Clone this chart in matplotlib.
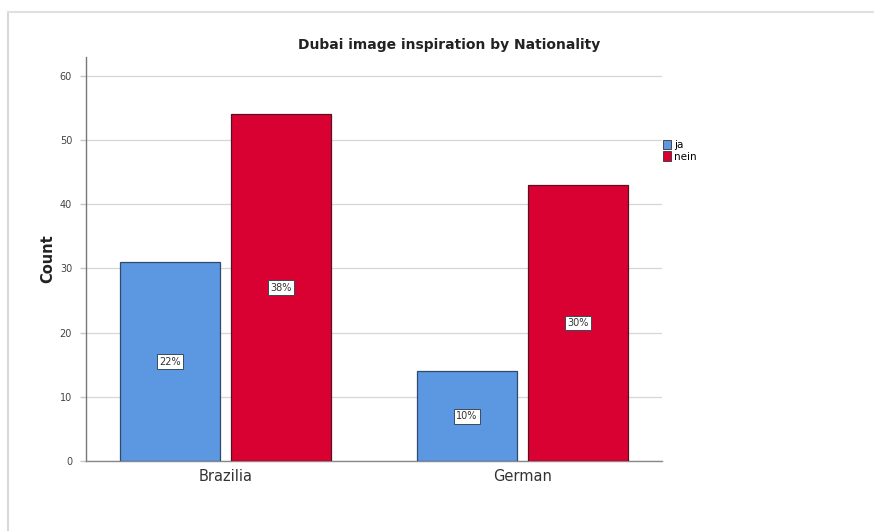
import matplotlib
matplotlib.use("Agg")
import matplotlib.pyplot as plt
from matplotlib.lines import Line2D
import numpy as np

categories = ["Brazilia", "German"]
series_names = ["ja", "nein"]
ja_counts = [31, 14]
nein_counts = [54, 43]
ja_pct = ["22%", "10%"]
nein_pct = ["38%", "30%"]
title = "Dubai image inspiration by Nationality"
y_ticks = [0, 10, 20, 30, 40, 50, 60]

blue = "#5C97E1"
red = "#D90032"

fig = plt.figure(figsize=(8.74, 5.31), dpi=100)
ax = fig.add_axes([86/874, 1-461/531, (662-86)/874, (461-57)/531])

x = np.arange(len(categories))
w = 0.336
gap = 0.037
off = (w + gap) / 2

b1 = ax.bar(x - off, ja_counts, w, color=blue, edgecolor="#2F4A6B", linewidth=0.9, label=series_names[0], zorder=3)
b2 = ax.bar(x + off, nein_counts, w, color=red, edgecolor="#5A1020", linewidth=0.9, label=series_names[1], zorder=3)

for bars, labels in ((b1, ja_pct), (b2, nein_pct)):
    for r, lab in zip(bars, labels):
        ax.text(r.get_x() + r.get_width()/2, r.get_height()/2, lab, ha="center", va="center",
                fontsize=7, color="#333333", zorder=5,
                bbox=dict(boxstyle="square,pad=0.25", facecolor="white", edgecolor="#3A4A5A", linewidth=0.7))

ax.set_xlim(-0.47, 1.47)
ax.set_ylim(0, 62.96)
ax.set_yticks(y_ticks)
ax.set_yticklabels([str(t) for t in y_ticks], fontsize=7, color="#444444")
ax.set_xticks(x)
ax.set_xticklabels(categories, fontsize=10.5, color="#333333")
ax.tick_params(axis="x", length=0, pad=6)
ax.tick_params(axis="y", length=4, color="#C8C8C8", width=1, pad=6)
ax.yaxis.grid(True, color="#D6D6D6", linewidth=0.9, zorder=0)
ax.set_axisbelow(True)
for s in ("top", "right"):
    ax.spines[s].set_visible(False)
ax.spines["left"].set_color("#777777")
ax.spines["bottom"].set_color("#888888")
ax.spines["left"].set_linewidth(1)
ax.spines["bottom"].set_linewidth(1)

ax.set_ylabel("Count", fontsize=10.5, fontweight="bold", color="#222222", labelpad=3)
fig.text(449/874, 1-45/531, title, ha="center", va="center", fontsize=10, fontweight="bold", color="#222222")

leg = ax.legend(loc="upper left", bbox_to_anchor=(663/874, 1-140/531), bbox_transform=fig.transFigure,
                frameon=False, fontsize=7.5, handlelength=0.8, handleheight=1.0, handletextpad=0.3,
                labelspacing=0.1, borderaxespad=0, borderpad=0)
for h in leg.legend_handles:
    h.set_edgecolor("#333333")
    h.set_linewidth(0.6)

# screenshot frame
fig.add_artist(Line2D([8/874, 8/874], [0, 1-12/531], transform=fig.transFigure, color="#D8D8D8", linewidth=1.5))
fig.add_artist(Line2D([8/874, 1], [1-12/531, 1-12/531], transform=fig.transFigure, color="#E0E0E0", linewidth=1.5))

fig.savefig("out.png", dpi=100)
